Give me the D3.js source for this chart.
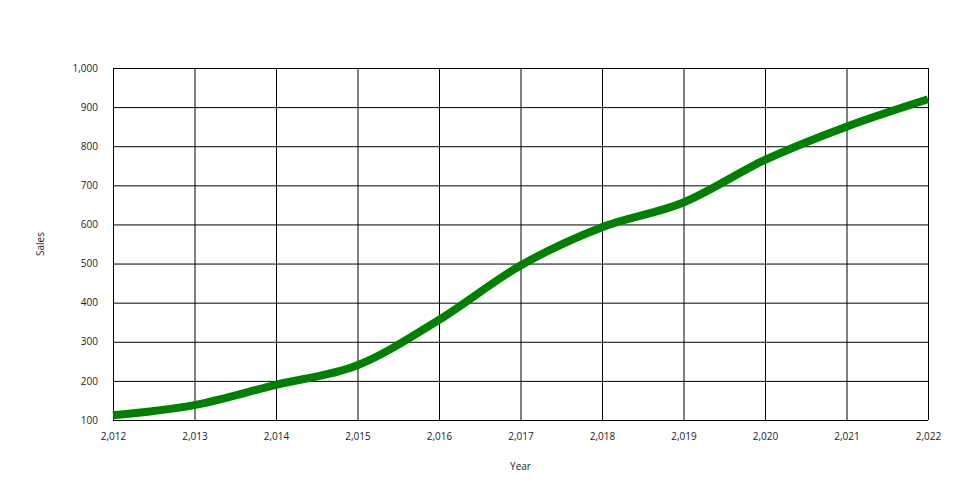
<!DOCTYPE html>
<html>
<head>
<meta charset="utf-8">
<script src="https://d3js.org/d3.v7.min.js"></script>
<style>
  body { margin: 0; background: #fff; }
  text { font-family: "Open Sans", sans-serif; }
</style>
</head>
<body>
<div id="chart"></div>
<script>
// data
var years = [2012, 2013, 2014, 2015, 2016, 2017, 2018, 2019, 2020, 2021, 2022];
var sales = [112, 138, 190, 240, 356, 495, 593, 656, 765, 850, 920];
var yTicks = [100, 200, 300, 400, 500, 600, 700, 800, 900, 1000];

var width = 960, height = 500;
var margin = {top: 68, right: 32, bottom: 80, left: 113};
var w = width - margin.left - margin.right;
var h = height - margin.top - margin.bottom;

var svg = d3.select("#chart").append("svg")
    .attr("width", width)
    .attr("height", height);

var g = svg.append("g")
    .attr("transform", "translate(" + margin.left + "," + margin.top + ")");

var x = d3.scaleLinear().domain([2012, 2022]).range([0, w]);
var y = d3.scaleLinear().domain([100, 1000]).range([h, 0]);

var xAxis = g.append("g")
    .attr("transform", "translate(0," + h + ")")
    .call(d3.axisBottom(x).tickValues(years).tickFormat(d3.format(",")).tickSize(-h).tickPadding(13));

var yAxis = g.append("g")
    .call(d3.axisLeft(y).tickValues(yTicks).tickFormat(d3.format(",")).tickSize(-w).tickPadding(15));

[xAxis, yAxis].forEach(function (a) {
    a.select(".domain").remove();
    a.selectAll(".tick line").attr("stroke", "#000").attr("stroke-width", 1);
    a.selectAll(".tick text").attr("fill", "#222").style("font-size", "10px");
});

var line = d3.line()
    .x(function (d, i) { return x(years[i]); })
    .y(function (d) { return y(d); })
    .curve(d3.curveMonotoneX);

g.append("path")
    .datum(sales)
    .attr("fill", "none")
    .attr("stroke", "green")
    .attr("stroke-width", 8)
    .attr("d", line);

svg.append("text")
    .attr("x", margin.left + w / 2)
    .attr("y", 470)
    .attr("text-anchor", "middle")
    .style("font-size", "10px")
    .attr("fill", "#222")
    .text("Year");

svg.append("text")
    .attr("transform", "translate(44," + (margin.top + h / 2) + ") rotate(-90)")
    .attr("text-anchor", "middle")
    .style("font-size", "10px")
    .attr("fill", "#222")
    .text("Sales");
</script>
</body>
</html>
